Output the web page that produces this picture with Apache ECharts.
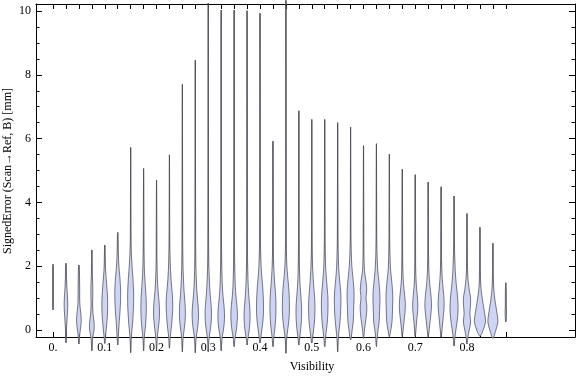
<!DOCTYPE html>
<html>
<head>
<meta charset="utf-8">
<script src="https://cdn.jsdelivr.net/npm/echarts@6/dist/echarts.min.js"></script>
<style>
html,body{margin:0;padding:0;background:#fff;}
#chart{width:576px;height:377px;}
</style>
</head>
<body>
<div id="chart"></div>
<script>
// ---- data ----
const visibility = [0,0.025,0.05,0.075,0.1,0.125,0.15,0.175,0.2,0.225,0.25,0.275,0.3,0.325,0.35,0.375,0.4,0.425,0.45,0.475,0.5,0.525,0.55,0.575,0.6,0.625,0.65,0.675,0.7,0.725,0.75,0.775,0.8,0.825,0.85,0.875];
const errorMin = [0.63,-0.40,-0.44,-0.65,-0.42,-0.47,-0.71,-0.65,-0.63,-0.57,-0.68,-0.71,-0.68,-0.65,-0.52,-0.47,-0.41,-0.52,-0.73,-0.47,-0.41,-0.52,-0.68,-0.31,-0.26,-0.52,-0.21,-0.20,-0.20,-0.21,-0.22,-0.50,-0.44,-0.19,-0.26,0.26];
const errorMax = [2.06,2.09,2.04,2.51,2.66,3.06,5.72,5.06,4.70,5.49,7.70,8.46,10.25,10.03,10.03,10.01,9.93,5.92,10.34,6.87,6.60,6.60,6.50,6.36,5.78,5.84,5.51,5.04,4.87,4.64,4.49,4.20,3.65,3.22,2.72,1.48];
// error levels at which the density (violin half-width) is read
const densityLevels = [-0.5,-0.25,0,0.25,0.5,0.75,1,1.25,1.5,1.75,2,2.5,3];
const densities = [
  [0.4,0.4,0.4,0.4,0.4,0.4,0.4,0.4,0.4,0.4,0.4,0.4,0.4],
  [0.3,0.4,0.5,0.9,1.4,1.8,1.6,1.1,0.7,0.5,0.4,0.3,0.3],
  [0.3,0.5,1.4,2.3,2.0,1.1,0.8,0.8,0.7,0.6,0.4,0.3,0.3],
  [0.3,0.8,2.2,2.2,1.2,0.8,0.9,1.0,0.8,0.5,0.4,0.3,0.3],
  [0.3,0.6,1.4,2.1,2.7,2.9,2.8,2.3,1.7,1.1,0.6,0.3,0.3],
  [0.3,0.5,1.0,1.5,2.1,2.6,2.9,2.9,2.5,1.9,1.2,0.5,0.3],
  [0.3,0.6,1.3,2.0,2.5,2.9,3.0,2.9,2.5,2.0,1.4,0.6,0.3],
  [0.3,0.6,1.5,2.2,2.6,2.7,2.5,2.0,1.5,1.0,0.7,0.4,0.3],
  [0.3,0.7,1.6,2.5,3.0,2.8,2.2,1.5,1.0,0.7,0.5,0.3,0.3],
  [0.3,0.7,1.6,2.4,3.0,3.3,3.1,2.5,1.8,1.3,0.9,0.5,0.3],
  [0.3,0.7,1.7,2.6,3.0,2.8,2.2,1.6,1.2,0.9,0.6,0.4,0.3],
  [0.3,0.8,2.0,2.9,3.2,2.8,2.1,1.5,1.1,0.8,0.6,0.4,0.3],
  [0.3,0.8,2.0,2.9,3.2,2.9,2.2,1.6,1.2,0.9,0.6,0.4,0.3],
  [0.3,0.9,2.2,3.1,3.3,2.8,2.0,1.4,1.0,0.8,0.6,0.4,0.3],
  [0.3,0.9,2.2,3.0,3.3,2.8,2.0,1.4,1.0,0.8,0.6,0.4,0.3],
  [0.3,0.9,2.1,2.8,3.0,2.6,1.9,1.4,1.0,0.8,0.6,0.4,0.3],
  [0.3,0.8,1.8,2.8,3.4,3.5,3.3,2.9,2.3,1.6,1.1,0.6,0.4],
  [0.3,0.8,1.7,2.5,2.9,3.0,2.8,2.3,1.7,1.2,0.8,0.4,0.3],
  [0.3,0.8,1.8,2.8,3.4,3.5,3.4,3.0,2.3,1.6,1.0,0.5,0.3],
  [0.3,0.8,1.8,2.5,2.8,2.7,2.2,1.6,1.1,0.8,0.6,0.4,0.3],
  [0.3,0.8,1.8,2.7,3.1,3.2,2.9,2.3,1.7,1.2,0.8,0.4,0.3],
  [0.3,0.8,1.7,2.6,3.1,3.3,3.2,2.7,2.0,1.4,0.9,0.5,0.3],
  [0.3,0.7,1.5,2.3,2.9,3.2,3.3,2.9,2.2,1.5,1.0,0.5,0.3],
  [0.3,0.6,1.6,2.6,3.0,3.2,3.5,3.4,2.8,2.0,1.3,0.6,0.3],
  [0.2,0.4,1.0,2.0,3.0,3.3,2.5,3.2,2.6,1.4,0.7,0.4,0.3],
  [0.3,0.7,1.6,2.7,3.0,3.3,3.5,3.2,2.5,1.7,1.1,0.5,0.3],
  [0.2,0.4,1.4,2.6,3.0,3.2,3.4,3.1,2.4,1.6,1.0,0.5,0.3],
  [0.2,0.4,0.8,1.6,2.5,3.0,2.6,1.8,1.1,0.7,0.5,0.3,0.3],
  [0.2,0.4,0.7,1.3,2.1,2.6,2.2,1.5,0.9,0.6,0.4,0.3,0.3],
  [0.2,0.4,1.0,1.8,2.7,3.3,3.0,2.2,1.4,0.9,0.6,0.3,0.3],
  [0.2,0.4,0.9,1.6,2.4,3.0,2.8,2.1,1.4,0.9,0.6,0.3,0.3],
  [0.3,0.8,1.8,3.0,3.8,4.0,3.6,2.8,2.0,1.4,1.0,0.5,0.3],
  [0.3,0.8,2.2,3.6,2.9,3.4,3.6,2.3,1.3,0.7,0.5,0.3,0.3],
  [0.3,0.3,3.2,5.5,4.8,3.5,2.3,1.2,0.7,0.5,0.4,0.3,0.3],
  [0.3,0.3,3.0,5.0,4.2,3.0,1.8,1.0,0.6,0.4,0.3,0.3,0.3],
  [0.3,0.3,1.2,1.2,0.7,0.5,0.5,0.4,0.3,0.3,0.3,0.3,0.3]
];
const xLabelValues = [0,0.1,0.2,0.3,0.4,0.5,0.6,0.7,0.8];
const xLabelTexts = ['0.','0.1','0.2','0.3','0.4','0.5','0.6','0.7','0.8'];
const yLabelValues = [0,2,4,6,8,10];
const yMinorValues = [0,0.5,1,1.5,2,2.5,3,3.5,4,4.5,5,5.5,6,6.5,7,7.5,8,8.5,9,9.5,10];

// ---- chart ----
const chart = echarts.init(document.getElementById('chart'), null, {renderer:'canvas'});
const FONT = '"Liberation Serif","DejaVu Serif",serif';
const densityToX = 1/517.5; // one density unit = one pixel of half-width
const X_MIN = -0.0329, X_MAX = 1.0087, Y_MIN = -0.22, Y_MAX = 10.22;

function yAxisDef(pos, withLabels, tickVals, len){
  return {
    type:'value', position:pos, min:Y_MIN, max:Y_MAX,
    axisLine:{show:withLabels, onZero:false, lineStyle:{color:'#000', width:1}},
    splitLine:{show:false},
    axisTick:{show:true, inside:true, length:len, customValues:tickVals, lineStyle:{color:'#000', width:1}},
    axisLabel:{show:withLabels && pos==='left', customValues:yLabelValues, color:'#000', fontFamily:FONT, fontSize:12, margin:5}
  };
}

const option = {
  animation:false,
  grid:{left:36, right:1, top:4, bottom:40},
  xAxis:[
    {type:'value', position:'bottom', min:X_MIN, max:X_MAX,
     axisLine:{show:true, onZero:false, lineStyle:{color:'#000', width:1}}, splitLine:{show:false},
     axisTick:{show:true, inside:true, length:5, customValues:visibility, lineStyle:{color:'#000'}},
     axisLabel:{customValues:xLabelValues, color:'#000', fontFamily:FONT, fontSize:12, margin:5,
       formatter:function(v){ const k = xLabelValues.findIndex(t=>Math.abs(t-v)<1e-9); return k>=0?xLabelTexts[k]:''; }}},
    {type:'value', position:'top', min:X_MIN, max:X_MAX,
     axisLine:{show:true, onZero:false, lineStyle:{color:'#000', width:1}}, splitLine:{show:false},
     axisTick:{show:true, inside:true, length:5, customValues:visibility, lineStyle:{color:'#000'}},
     axisLabel:{show:false}}
  ],
  yAxis:[
    yAxisDef('left', true, yLabelValues, 6),
    yAxisDef('left', false, yMinorValues, 3.5),
    yAxisDef('right', true, yLabelValues, 6),
    yAxisDef('right', false, yMinorValues, 3.5)
  ],
  graphic:[
    {type:'text', x:312, y:361, style:{text:'Visibility', font:'12px '+FONT, fill:'#000', align:'center', verticalAlign:'top'}},
    {type:'text', rotation:Math.PI/2, x:2, y:171, style:{text:'SignedError (Scan\u2192Ref, B) [mm]', font:'12px '+FONT, fill:'#000', align:'center', verticalAlign:'top'}}
  ],
  series:[{
    type:'custom', xAxisIndex:0, yAxisIndex:0, clip:false,
    data: visibility.map((v,i)=>[v, errorMin[i], errorMax[i]]),
    renderItem:function(params, api){
      const i = params.dataIndex;
      const x = visibility[i], lo = errorMin[i], hi = errorMax[i];
      const dens = densities[i];
      const pxPerX = api.size([1,0])[0];
      const pB = api.coord([x, lo]), pT = api.coord([x, hi]);
      const left = [pB], right = [];
      densityLevels.forEach(function(L,k){
        if (L > lo + 0.03 && L < hi - 0.03) {
          const c = api.coord([x, L]);
          const w = dens[k]*densityToX*pxPerX;
          left.push([c[0]-w, c[1]]);
          right.push([c[0]+w, c[1]]);
        }
      });
      left.push(pT);
      const pts = left.concat(right.reverse());
      return {type:'group', children:[
        {type:'line', shape:{x1:pB[0], y1:pB[1], x2:pT[0], y2:pT[1]}, style:{stroke:'rgba(70,70,70,0.9)', lineWidth:1.1}},
        {type:'polygon', shape:{points:pts, smooth:0.35}, style:{fill:'rgb(205,212,245)', stroke:'rgba(80,80,90,0.95)', lineWidth:0.8}}
      ]};
    }
  }]
};
chart.setOption(option);
</script>
</body>
</html>
